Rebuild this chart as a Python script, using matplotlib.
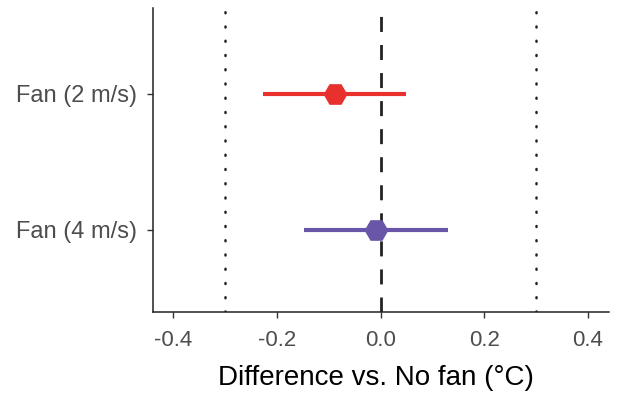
import matplotlib.pyplot as plt

plt.rcParams['font.family'] = ['Liberation Sans', 'DejaVu Sans']

labels = ["Fan (2 m/s)", "Fan (4 m/s)"]
estimates = [-0.088, -0.008]
ci_low = [-0.227, -0.147]
ci_high = [0.050, 0.130]
colors = ["#E8302F", "#6A56A8"]
ypos = [2, 1]

fig = plt.figure(figsize=(6.28, 3.96), dpi=100)
ax = fig.add_axes([0.243, 0.213, 0.726, 0.767])

# reference lines: no difference and +/- 0.3 equivalence bounds
ax.axvline(0, color="#222222", lw=2.0, ls=(0, (5.4, 4.7)), zorder=1)
for b in (-0.3, 0.3):
    ax.axvline(b, color="#222222", lw=1.8, ls=(0, (0.4, 5.3)),
               dash_capstyle="round", zorder=1)

for y, est, lo, hi, c in zip(ypos, estimates, ci_low, ci_high, colors):
    ax.plot([lo, hi], [y, y], color=c, lw=3, solid_capstyle="butt", zorder=2)
    ax.plot(est, y, marker="H", color=c, markersize=16, zorder=3)

ax.set_xlim(-0.44, 0.44)
ax.set_ylim(0.4, 2.63)
ax.set_xticks([-0.4, -0.2, 0.0, 0.2, 0.4])
ax.set_xticklabels(["-0.4", "-0.2", "0.0", "0.2", "0.4"])
ax.set_yticks(ypos)
ax.set_yticklabels(labels)
ax.tick_params(axis="both", colors="#333333", labelcolor="#4D4D4D",
               length=4, width=1)
ax.tick_params(axis="x", labelsize=16, pad=9)
ax.tick_params(axis="y", labelsize=17, pad=7)
ax.set_xlabel("Difference vs. No fan (°C)", fontsize=20, color="black")
ax.xaxis.set_label_coords(0.49, -0.175)

for s in ("top", "right"):
    ax.spines[s].set_visible(False)
for s in ("left", "bottom"):
    ax.spines[s].set_color("#222222")
    ax.spines[s].set_linewidth(1.1)

fig.savefig("out.png", dpi=100)
